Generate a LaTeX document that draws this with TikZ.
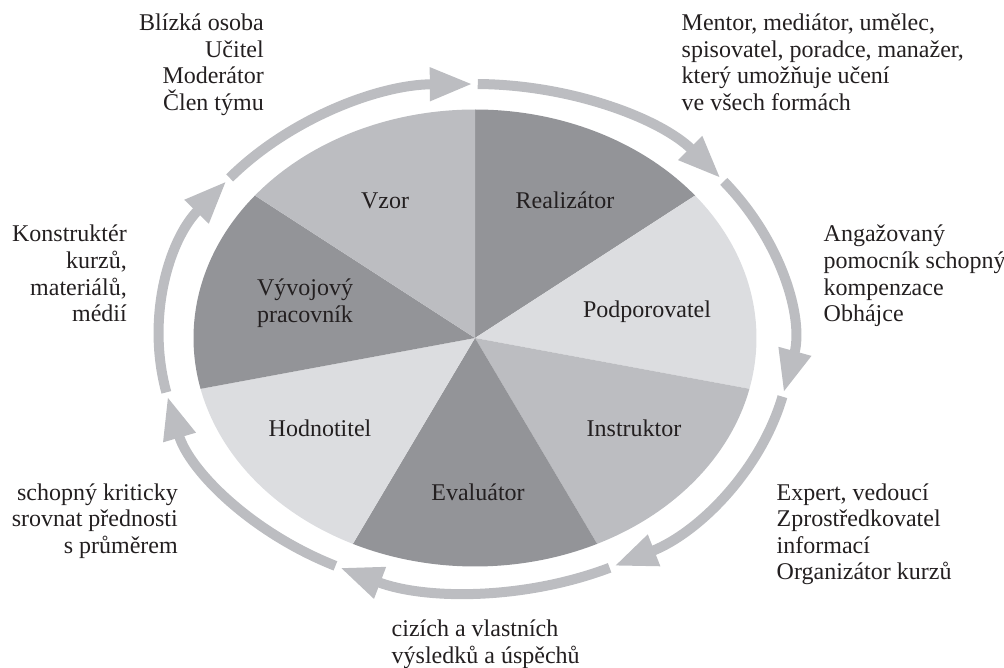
\documentclass[tikz,border=0pt]{standalone}
\usepackage{fontspec}
\setmainfont{Liberation Serif}
\usetikzlibrary{arrows.meta,calc}
\definecolor{pdark}{HTML}{939498}
\definecolor{pmid}{HTML}{BCBDC1}
\definecolor{plight}{HTML}{DCDDE0}
\definecolor{ringc}{HTML}{BCBDC1}
\definecolor{txt}{HTML}{231F20}
\begin{document}
\begin{tikzpicture}[x=1pt,y=-1pt,
  lbl/.style={inner sep=0pt, text=txt, font=\fontsize{24}{26.6}\selectfont},
  sector/.style={lbl, anchor=base, align=center},
  notel/.style={lbl, anchor=base west, align=left},
  noter/.style={lbl, anchor=base east, align=right},
  ringarrow/.style={draw=ringc, line width=10pt, -{Triangle[length=43pt,width=31pt]}}]
\useasboundingbox (0,0) rectangle (1004,668);
\coordinate (C) at (475,338);
% pie sectors, clockwise from top
\foreach \k/\c in {0/pdark,1/plight,2/pmid,3/pdark,4/plight,5/pdark,6/pmid} {
  \pgfmathsetmacro\a{-90+\k*360/7}
  \fill[\c] (C) -- ($(C)+(\a:281.5 and 228.5)$)
    arc[start angle=\a, delta angle=360/7, x radius=281.5, y radius=228.5] -- cycle;
}
% ring of arrows
\foreach \k in {0,...,6} {
  \pgfmathsetmacro\s{-90+\k*360/7+0.5}
  \pgfmathsetmacro\e{-90+(\k+1)*360/7-0.4}
  \draw[ringarrow] ($(C)+(\s:316 and 254)$)
    arc[start angle=\s, end angle=\e, x radius=316, y radius=254];
}
% sector labels (multi-line: anchor at last baseline)
\node[sector] (vzor) at (385,209) {Vzor};
\node[sector] (real) at (565,209) {Realizátor};
\node[sector] (podp) at (647,317) {Podporovatel};
\node[sector] (instr) at (634,436.5) {Instruktor};
\node[sector] (eval) at (478,500) {Evaluátor};
\node[sector] (hodn) at (320,436.5) {Hodnotitel};
\node[sector] (vyv) at (305,322.6) {Vývojový\\pracovník};
% outer notes
\node[noter] (n1) at (264,110.3) {Blízká osoba\\Učitel\\Moderátor\\Člen týmu};
\node[notel] (n2) at (681.5,110.3) {Mentor, mediátor, umělec,\\spisovatel, poradce, manažer,\\který umožňuje učení\\ve všech formách};
\node[notel] (n3) at (823.5,321.8) {Angažovaný\\pomocník schopný\\kompenzace\\Obhájce};
\node[notel] (n4) at (776.5,579.8) {Expert, vedoucí\\Zprostředkovatel\\informací\\Organizátor kurzů};
\node[notel] (n5) at (391.5,663.1) {cizích a vlastních\\výsledků a úspěchů};
\node[noter] (n6) at (178,553.2) {schopný kriticky\\srovnat přednosti\\s průměrem};
\node[noter] (n7) at (127,321.8) {Konstruktér\\kurzů,\\materiálů,\\médií};
\end{tikzpicture}
\end{document}
